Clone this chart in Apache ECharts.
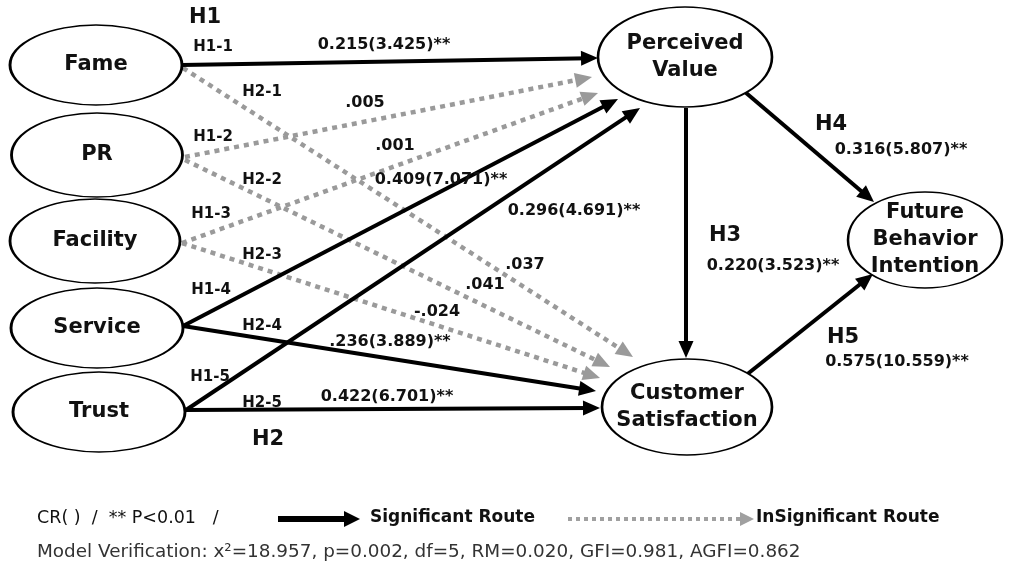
<!DOCTYPE html>
<html>
<head>
<meta charset="utf-8">
<script src="https://cdn.jsdelivr.net/npm/echarts@6/dist/echarts.min.js"></script>
<style>
html, body { margin: 0; padding: 0; background: #fff; }
#main { width: 1009px; height: 565px; }
</style>
</head>
<body>
<div id="main"></div>
<script>
// constructs of the model
var constructNames = ['Fame', 'PR', 'Facility', 'Service', 'Trust',
  'Perceived\nValue', 'Customer\nSatisfaction', 'Future\nBehavior\nIntention'];

// paths: [from, to, coefficient, significant]
var pathFrom = [0, 3, 4, 3, 4, 5, 5, 6, 0, 1, 1, 2, 2];
var pathTo = [5, 5, 5, 6, 6, 6, 7, 7, 6, 5, 6, 5, 6];
var pathSignificant = [1, 1, 1, 1, 1, 1, 1, 1, 0, 0, 0, 0, 0];
var pathCoef = ['0.215(3.425)**', '0.409(7.071)**', '0.296(4.691)**', '.236(3.889)**',
  '0.422(6.701)**', '0.220(3.523)**', '0.316(5.807)**', '0.575(10.559)**',
  '.037', '.005', '.041', '.001', '-.024'];

// hypothesis labels
var hypLabels = ['H1', 'H2', 'H3', 'H4', 'H5'];
var subLabels = ['H1-1', 'H2-1', 'H1-2', 'H2-2', 'H1-3', 'H2-3', 'H1-4', 'H2-4', 'H1-5', 'H2-5'];

var legendText = ['CR( )  /  ** P<0.01   /', 'Significant Route', 'InSignificant Route'];
var fitText = 'Model Verification: x\u00b2=18.957, p=0.002, df=5, RM=0.020, GFI=0.981, AGFI=0.862';

// ---- layout (diagram coordinates) ----
var nodePos = [[96, 65], [97, 155], [95, 241], [97, 328], [99, 412], [685, 57], [687, 407], [925, 240]];
var nodeSize = [[172, 80], [171, 84], [170, 84], [172, 80], [172, 80], [174, 100], [170, 96], [154, 96]];
var pathStart = [[182, 65], [183, 326], [186, 410], [183, 326], [186, 410], [686, 108], [745, 92], [745, 376],
  [183, 68], [185, 157], [185, 160], [182, 243], [182, 243]];
var pathTip = [[598, 58], [618, 99], [640, 108], [596, 391], [600, 408], [686, 358], [874, 202], [873, 274],
  [633, 357], [592, 77], [610, 367], [598, 93], [600, 378]];
var coefPos = [[384, 45], [441, 180], [574, 211], [390, 342], [387, 397], [773, 266], [901, 150], [897, 362],
  [525, 265], [365, 103], [485, 285], [395, 146], [437, 312]];
var hypPos = [[205, 18], [268, 440], [725, 236], [831, 125], [843, 338]];
var subPos = [[213, 47], [262, 92], [213, 137], [262, 180], [211, 214], [262, 255], [211, 290], [262, 326], [210, 377], [262, 403]];

var FONT = 'DejaVu Sans';
var ARROW = [15, 17];

function arrowEnd(s, t) {
  // lines series centres the arrow on the end point: step back half its length
  var dx = t[0] - s[0], dy = t[1] - s[1];
  var len = Math.sqrt(dx * dx + dy * dy);
  return [t[0] - dx / len * ARROW[1] / 2, t[1] - dy / len * ARROW[1] / 2];
}

var solidLines = [], dottedLines = [];
for (var i = 0; i < pathFrom.length; i++) {
  var item = { name: constructNames[pathFrom[i]] + ' -> ' + constructNames[pathTo[i]],
    coords: [pathStart[i], arrowEnd(pathStart[i], pathTip[i])] };
  if (pathSignificant[i]) solidLines.push(item); else dottedLines.push(item);
}

var nodeData = constructNames.map(function (n, i) {
  return { name: n, value: nodePos[i], symbolSize: nodeSize[i] };
});

var textData = [];
for (var i = 0; i < pathCoef.length; i++) {
  textData.push({ value: coefPos[i], label: { formatter: pathCoef[i], fontSize: 16, fontWeight: 'bold' } });
}
for (var i = 0; i < hypLabels.length; i++) {
  textData.push({ value: hypPos[i], label: { formatter: hypLabels[i], fontSize: 21, fontWeight: 'bold' } });
}
for (var i = 0; i < subLabels.length; i++) {
  textData.push({ value: subPos[i], label: { formatter: subLabels[i], fontSize: 15, fontWeight: 'bold' } });
}

var legendData = [
  { value: [37, 518], label: { formatter: legendText[0], fontSize: 17.5 } },
  { value: [370, 518], label: { formatter: legendText[1], fontSize: 17, fontWeight: 'bold' } },
  { value: [756, 518], label: { formatter: legendText[2], fontSize: 17, fontWeight: 'bold' } },
  { value: [37, 552], label: { formatter: fitText, fontSize: 18.4, color: '#333' } }
];

var chart = echarts.init(document.getElementById('main'));
chart.setOption({
  animation: false,
  grid: { left: 0, right: 0, top: 0, bottom: 0 },
  xAxis: { type: 'value', min: 0, max: 1009, show: false },
  yAxis: { type: 'value', min: 0, max: 565, inverse: true, show: false },
  series: [
    {
      type: 'lines', coordinateSystem: 'cartesian2d', z: 2,
      symbol: ['none', 'triangle'], symbolSize: [0, ARROW],
      lineStyle: { color: '#9a9a9a', width: 4.5, type: [5, 5], opacity: 1 },
      itemStyle: { color: '#9a9a9a' },
      data: dottedLines
    },
    {
      type: 'lines', coordinateSystem: 'cartesian2d', z: 3,
      symbol: ['none', 'triangle'], symbolSize: [0, ARROW],
      lineStyle: { color: '#000', width: 4, opacity: 1 },
      itemStyle: { color: '#000' },
      data: solidLines
    },
    {
      type: 'scatter', z: 4,
      symbol: 'path://M0 50A50 50 0 1 1 100 50A50 50 0 1 1 0 50Z',
      itemStyle: { color: '#fff', borderColor: '#000', borderWidth: 2, opacity: 1 },
      label: { show: true, position: 'inside', formatter: '{b}', fontFamily: FONT,
        fontSize: 21, fontWeight: 'bold', lineHeight: 27, color: '#111' },
      emphasis: { disabled: true },
      data: nodeData
    },
    {
      type: 'scatter', z: 5, symbolSize: 0,
      itemStyle: { opacity: 1 },
      label: { show: true, position: 'inside', fontFamily: FONT, color: '#111' },
      emphasis: { disabled: true },
      data: textData
    },
    {
      type: 'scatter', z: 5, symbolSize: 0,
      itemStyle: { opacity: 1 },
      label: { show: true, position: 'right', distance: 0, fontFamily: FONT, color: '#111' },
      emphasis: { disabled: true },
      data: legendData
    },
    {
      type: 'lines', coordinateSystem: 'cartesian2d', z: 3,
      symbol: ['none', 'triangle'], symbolSize: [0, [16, 16]],
      lineStyle: { color: '#000', width: 6, opacity: 1 },
      itemStyle: { color: '#000' },
      data: [{ coords: [[278, 519], [352, 519]] }]
    },
    {
      type: 'lines', coordinateSystem: 'cartesian2d', z: 3,
      symbol: ['none', 'triangle'], symbolSize: [0, [14, 14]],
      lineStyle: { color: '#a0a0a0', width: 4, type: [4, 4], opacity: 1 },
      itemStyle: { color: '#a0a0a0' },
      data: [{ coords: [[568, 519], [747, 519]] }]
    }
  ]
});
</script>
</body>
</html>
